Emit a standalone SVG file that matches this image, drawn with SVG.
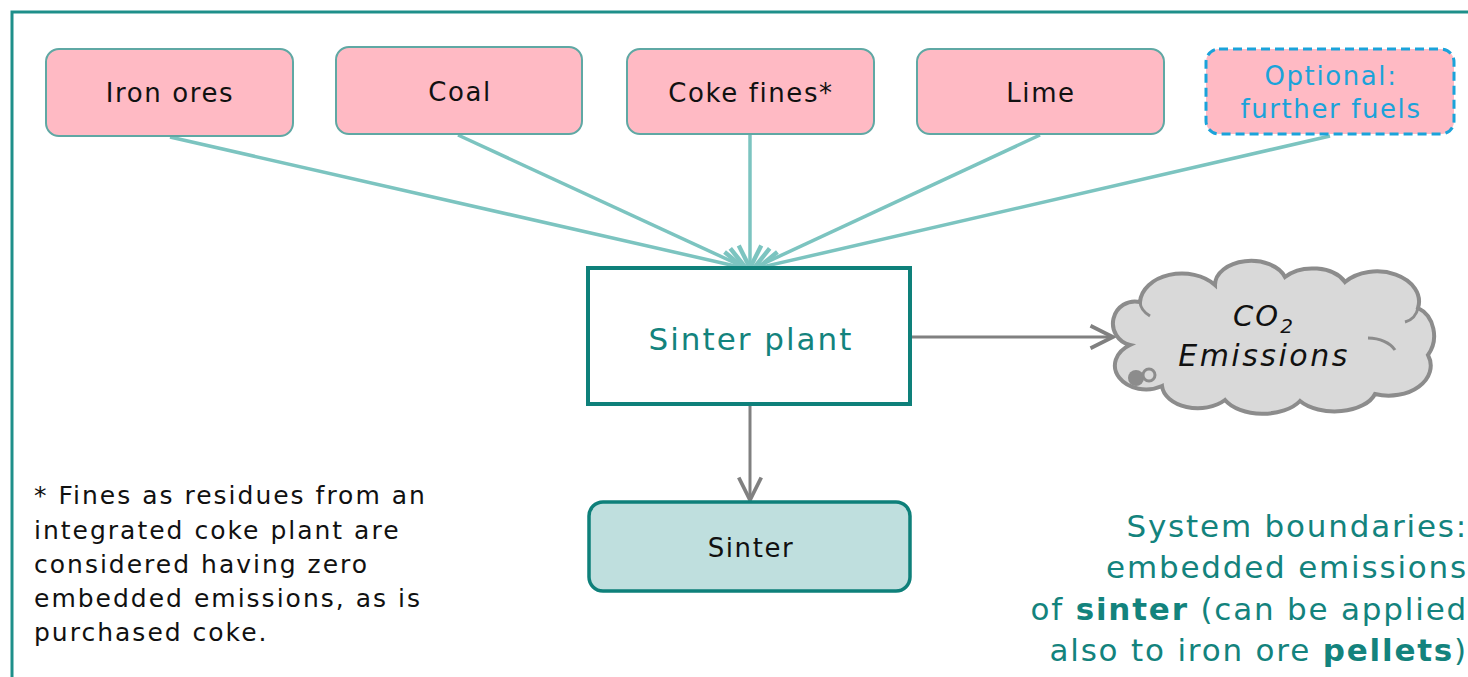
<svg xmlns="http://www.w3.org/2000/svg" width="1468" height="677" viewBox="0 0 1468 677">
<style>
.src{fill:#FFBAC4;stroke:#5FA8A4;stroke-width:2}
.lbl{font-family:"DejaVu Sans",Verdana,sans-serif;font-size:26px;letter-spacing:1.6px;fill:#111;text-anchor:middle}
.teal{stroke:#7CC4C0;stroke-width:3.5;fill:none}
.gray{stroke:#808080;stroke-width:3;fill:none}
</style>
<defs>
<marker id="at" markerUnits="userSpaceOnUse" markerWidth="30" markerHeight="30" refX="20" refY="10" viewBox="0 0 24 20" orient="auto">
<path d="M2,1 L20,10 L2,19" fill="none" stroke="#7CC4C0" stroke-width="3.5"/>
</marker>
<marker id="ag" markerUnits="userSpaceOnUse" markerWidth="30" markerHeight="30" refX="20" refY="10" viewBox="0 0 24 20" orient="auto">
<path d="M2,1 L20,10 L2,19" fill="none" stroke="#808080" stroke-width="3"/>
</marker>
</defs>
<rect width="1468" height="677" fill="#fff"/>
<g id="frame">
<path d="M12,677 V12 H1468" fill="none" stroke="#1E8F8A" stroke-width="3"/>
</g>
<g id="connectors">
<line class="teal" x1="170" y1="137" x2="744" y2="268" marker-end="url(#at)"/>
<line class="teal" x1="458" y1="135" x2="746" y2="268" marker-end="url(#at)"/>
<line class="teal" x1="750" y1="135" x2="750" y2="268" marker-end="url(#at)"/>
<line class="teal" x1="1040" y1="135" x2="754" y2="268" marker-end="url(#at)"/>
<line class="teal" x1="1330" y1="136" x2="758" y2="268" marker-end="url(#at)"/>
<line class="gray" x1="912" y1="337" x2="1113" y2="337" marker-end="url(#ag)"/>
<line class="gray" x1="750" y1="406" x2="750" y2="500" marker-end="url(#ag)"/>
</g>
<g id="iron-ores">
<rect class="src" x="46" y="49" width="247" height="87" rx="13"/>
<text class="lbl" x="170" y="102">Iron ores</text>
</g>
<g id="coal">
<rect class="src" x="336" y="47" width="246" height="87" rx="13"/>
<text class="lbl" x="460" y="101">Coal</text>
</g>
<g id="coke-fines">
<rect class="src" x="627" y="49" width="247" height="85" rx="13"/>
<text class="lbl" x="751" y="102">Coke fines*</text>
</g>
<g id="lime">
<rect class="src" x="917" y="49" width="247" height="85" rx="13"/>
<text class="lbl" x="1041" y="102">Lime</text>
</g>
<g id="optional">
<rect x="1206" y="49" width="248" height="85" rx="13" fill="#FFBAC4" stroke="#1BA3DA" stroke-width="3" stroke-dasharray="9,5"/>
<text class="lbl" x="1331" y="85" style="fill:#1BA3DA">Optional:</text>
<text class="lbl" x="1331" y="118" style="fill:#1BA3DA">further fuels</text>
</g>
<g id="sinter-plant">
<rect x="588" y="268" width="322" height="136" fill="#fff" stroke="#0E807A" stroke-width="4"/>
<text x="751" y="350" font-family="DejaVu Sans, Verdana, sans-serif" font-size="31" letter-spacing="2" fill="#13837D" text-anchor="middle">Sinter plant</text>
</g>
<g id="sinter">
<rect x="589" y="502" width="321" height="89" rx="14" fill="#BFDFDE" stroke="#0E807A" stroke-width="3.5"/>
<text class="lbl" x="751" y="557">Sinter</text>
</g>
<g id="co2">
<path d="M1130,345 A22,22 0 0 1 1140,302 A42,30 0 0 1 1215,285 A36,24 0 0 1 1285,277 A36,24 0 0 1 1345,282 A42,30 0 0 1 1418,308 A26,30 0 0 1 1428,355 A42,30 0 0 1 1375,394 A42,24 0 0 1 1300,401 A42,24 0 0 1 1225,400 A36,24 0 0 1 1162,386 A26,20 0 0 1 1130,345 Z" fill="#D9D9D9" stroke="#8C8C8C" stroke-width="4"/>
<path d="M1368,338 A30,20 0 0 1 1395,350" fill="none" stroke="#8C8C8C" stroke-width="3"/>
<path d="M1418,308 A18,18 0 0 1 1405,322" fill="none" stroke="#8C8C8C" stroke-width="3"/>
<path d="M1140,302 A30,20 0 0 0 1150,316" fill="none" stroke="#8C8C8C" stroke-width="3"/>
<circle cx="1136" cy="378" r="8" fill="#8C8C8C"/>
<circle cx="1149" cy="375" r="6" fill="none" stroke="#8C8C8C" stroke-width="3"/>
<text x="1264" y="326" font-family="DejaVu Sans, Verdana, sans-serif" font-size="29" letter-spacing="2" font-style="italic" fill="#111" text-anchor="middle">CO<tspan font-size="20" dy="7">2</tspan></text>
<text x="1264" y="366" font-family="DejaVu Sans, Verdana, sans-serif" font-size="30" letter-spacing="2.5" font-style="italic" fill="#111" text-anchor="middle">Emissions</text>
</g>
<g id="footnote" font-family="DejaVu Sans, Verdana, sans-serif" font-size="25" letter-spacing="2" fill="#111">
<text x="34" y="504">* Fines as residues from an</text>
<text x="34" y="539">integrated coke plant are</text>
<text x="34" y="573">considered having zero</text>
<text x="34" y="607">embedded emissions, as is</text>
<text x="34" y="641">purchased coke.</text>
</g>
<g id="boundary" font-family="DejaVu Sans, Verdana, sans-serif" font-size="31" letter-spacing="1.8" fill="#13837D" text-anchor="end">
<text x="1468" y="537">System boundaries:</text>
<text x="1468" y="578">embedded emissions</text>
<text x="1468" y="620">of <tspan font-weight="bold">sinter</tspan> (can be applied</text>
<text x="1468" y="661">also to iron ore <tspan font-weight="bold">pellets</tspan>)</text>
</g>
</svg>
